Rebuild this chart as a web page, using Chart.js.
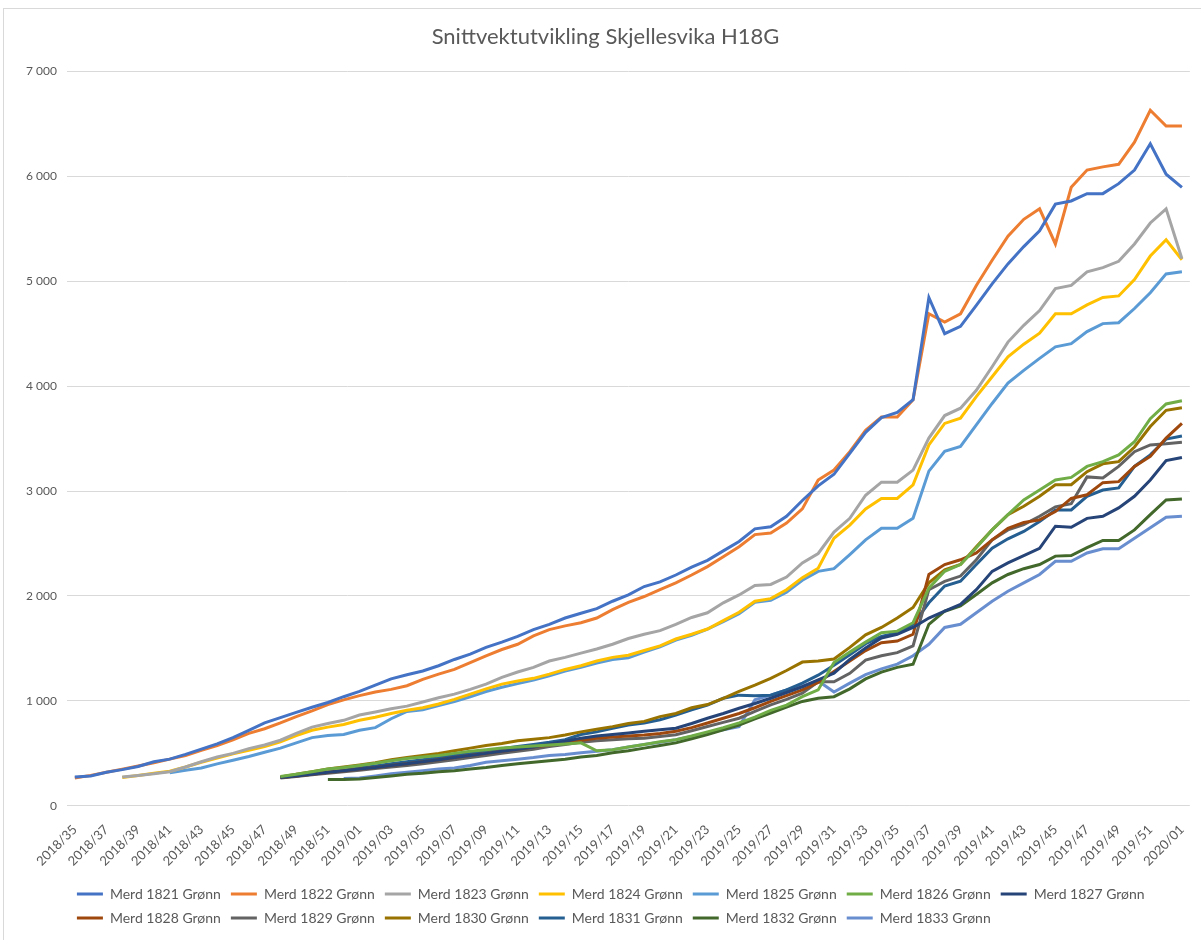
<!DOCTYPE html>
<html><head><meta charset="utf-8">
<script src="https://cdn.jsdelivr.net/npm/chart.js@4.4.1/dist/chart.umd.min.js"></script>
<style>
html,body{margin:0;padding:0;background:#fff;}
#wrap{position:relative;width:1201px;height:940px;overflow:hidden;}
#frame{position:absolute;left:3px;top:8px;width:1210px;height:950px;border:1px solid #d9d9d9;box-sizing:border-box;}
canvas{position:absolute;left:0;top:0;}
</style></head><body>
<div id="wrap"><div id="frame"></div><canvas id="c" width="1201" height="940"></canvas></div>
<script>
const title = 'Snittvektutvikling Skjellesvika H18G';
const weeks = ['2018/35','2018/36','2018/37','2018/38','2018/39','2018/40','2018/41','2018/42','2018/43','2018/44','2018/45','2018/46','2018/47','2018/48','2018/49','2018/50','2018/51','2018/52',
'2019/01','2019/02','2019/03','2019/04','2019/05','2019/06','2019/07','2019/08','2019/09','2019/10','2019/11','2019/12','2019/13','2019/14','2019/15','2019/16','2019/17','2019/18','2019/19','2019/20','2019/21','2019/22','2019/23','2019/24','2019/25','2019/26','2019/27','2019/28','2019/29','2019/30','2019/31','2019/32','2019/33','2019/34','2019/35','2019/36','2019/37','2019/38','2019/39','2019/40','2019/41','2019/42','2019/43','2019/44','2019/45','2019/46','2019/47','2019/48','2019/49','2019/50','2019/51','2019/52',
'2020/01'];
const yTicks = [0,1000,2000,3000,4000,5000,6000,7000];
const yTickLabels = ['0','1 000','2 000','3 000','4 000','5 000','6 000','7 000'];
const _ = null;
const m1821 = [275,285,320,345,375,420,445,490,540,590,650,720,790,840,890,940,985,1040,1090,1150,1210,1250,1285,1335,1395,1445,1510,1560,1615,1680,1730,1790,1835,1880,1950,2010,2090,2135,2200,2275,2340,2430,2520,2640,2660,2760,2910,3050,3160,3360,3560,3700,3750,3870,4845,4500,4570,4770,4975,5165,5330,5480,5735,5765,5835,5835,5930,6060,6310,6020,5895];
const m1822 = [265,290,320,350,380,410,445,480,530,575,630,690,735,790,850,905,965,1010,1050,1085,1110,1145,1205,1255,1300,1365,1430,1490,1540,1620,1680,1715,1745,1790,1870,1940,1995,2060,2125,2200,2280,2375,2470,2585,2600,2695,2830,3105,3200,3375,3580,3705,3705,3870,4690,4610,4690,4960,5200,5430,5590,5690,5355,5895,6060,6090,6115,6325,6630,6480,6480];
const m1823 = [_,_,_,275,290,305,325,370,420,465,500,545,580,625,690,750,785,815,865,895,925,950,990,1030,1065,1110,1160,1225,1275,1320,1380,1415,1455,1495,1540,1595,1635,1670,1730,1795,1840,1935,2010,2100,2110,2180,2315,2405,2610,2740,2960,3085,3085,3200,3505,3720,3790,3960,4185,4420,4580,4720,4930,4960,5090,5130,5190,5355,5555,5690,5215];
const m1824 = [_,_,_,270,290,310,330,370,415,455,495,530,565,610,670,720,750,775,815,845,880,910,935,970,1015,1065,1115,1160,1190,1215,1255,1300,1335,1380,1415,1435,1480,1525,1590,1635,1685,1765,1845,1950,1975,2060,2175,2265,2550,2675,2830,2930,2930,3060,3440,3645,3695,3900,4090,4280,4400,4505,4690,4690,4775,4845,4860,5015,5240,5395,5205];
const m1825 = [_,_,_,_,_,_,315,340,360,400,435,470,510,550,600,650,670,680,720,745,830,900,915,955,995,1040,1090,1130,1165,1200,1240,1285,1320,1360,1395,1410,1465,1515,1580,1625,1685,1755,1830,1940,1960,2035,2150,2235,2260,2395,2535,2645,2645,2740,3190,3380,3425,3630,3835,4030,4150,4265,4375,4405,4520,4596,4605,4740,4890,5070,5090];
const m1826 = [_,_,_,_,_,_,_,_,_,_,_,_,_,280,300,325,350,365,385,405,430,450,465,480,500,520,535,550,560,570,580,590,600,525,535,560,585,610,630,665,705,745,790,845,910,960,1040,1105,1365,1465,1560,1650,1665,1745,2075,2235,2300,2460,2630,2775,2915,3010,3105,3130,3235,3280,3345,3470,3690,3830,3860];
const m1827 = [_,_,_,_,_,_,_,_,_,_,_,_,_,270,285,300,320,335,350,365,385,400,420,440,460,480,500,520,540,560,590,615,645,665,680,695,710,725,740,785,835,880,930,975,1025,1080,1135,1200,1265,1395,1505,1600,1635,1700,1790,1855,1920,2060,2235,2315,2385,2455,2665,2655,2740,2760,2840,2950,3105,3290,3320];
const m1828 = [_,_,_,_,_,_,_,_,_,_,_,_,_,270,285,300,320,335,350,365,385,400,420,440,460,480,500,520,540,560,580,600,625,645,655,665,675,690,710,745,790,835,880,935,995,1050,1105,1175,1280,1380,1480,1555,1570,1635,2205,2300,2345,2410,2535,2645,2700,2725,2805,2930,2965,3080,3090,3235,3330,3505,3645];
const m1829 = [_,_,_,_,_,_,_,_,_,_,_,_,_,265,280,295,310,325,340,355,370,385,400,420,440,460,480,500,520,540,565,585,605,620,630,640,645,660,677,715,756,795,835,900,962,1015,1073,1183,1183,1263,1390,1430,1460,1525,2060,2140,2190,2345,2535,2630,2680,2760,2850,2880,3135,3125,3235,3375,3440,3450,3465];
const m1830 = [_,_,_,_,_,_,_,_,_,_,_,_,_,275,300,325,350,370,390,410,440,460,480,500,525,550,575,595,620,635,650,675,705,730,755,785,805,850,880,935,965,1025,1090,1150,1215,1290,1370,1380,1400,1510,1630,1700,1790,1890,2125,2250,2300,2470,2630,2775,2855,2950,3060,3060,3185,3260,3280,3420,3615,3770,3795];
const m1831 = [_,_,_,_,_,_,_,_,_,_,_,_,_,270,290,305,320,340,360,380,400,420,440,460,480,500,525,545,565,585,605,630,680,705,740,770,790,820,865,915,960,1025,1055,1050,1055,1105,1170,1245,1340,1440,1545,1615,1650,1730,1935,2095,2140,2300,2455,2545,2615,2710,2820,2820,2950,3010,3030,3235,3345,3495,3525];
const m1832 = [_,_,_,_,_,_,_,_,_,_,_,_,_,_,_,_,250,250,255,270,285,300,310,325,335,350,365,385,400,415,430,445,465,480,505,525,550,575,600,640,680,725,770,830,885,940,995,1025,1040,1115,1210,1275,1320,1350,1730,1855,1905,2015,2125,2205,2260,2300,2380,2385,2460,2530,2530,2630,2775,2915,2925];
const m1833 = [_,_,_,_,_,_,_,_,_,_,_,_,_,_,_,_,_,260,265,285,305,320,335,350,360,385,415,430,445,460,480,490,505,520,535,560,585,605,630,660,695,725,755,1010,1055,1105,1140,1190,1085,1170,1250,1305,1350,1430,1540,1700,1730,1840,1950,2045,2125,2205,2330,2330,2410,2450,2450,2550,2650,2750,2760];

const names = ['Merd 1821 Grønn','Merd 1822 Grønn','Merd 1823 Grønn','Merd 1824 Grønn','Merd 1825 Grønn','Merd 1826 Grønn','Merd 1827 Grønn','Merd 1828 Grønn','Merd 1829 Grønn','Merd 1830 Grønn','Merd 1831 Grønn','Merd 1832 Grønn','Merd 1833 Grønn'];
const series = [m1821,m1822,m1823,m1824,m1825,m1826,m1827,m1828,m1829,m1830,m1831,m1832,m1833];
const colors = ['#4472C4','#ED7D31','#A5A5A5','#FFC000','#5B9BD5','#70AD47','#264478','#9E480E','#636363','#997300','#255E91','#43682B','#698ED0'];

const txt = '#595959';
const FONT = 'Lato, "Open Sans", sans-serif';

new Chart(document.getElementById('c'), {
  type: 'line',
  data: {
    labels: weeks,
    datasets: series.map((d, k) => ({
      label: names[k], data: d, borderColor: colors[k], backgroundColor: colors[k],
      borderWidth: 3, pointRadius: 0, tension: 0, spanGaps: false
    }))
  },
  options: {
    responsive: false, animation: false,
    layout: { padding: { left: 16, right: 6, top: 24, bottom: 5 } },
    plugins: {
      tooltip: { enabled: false },
      title: { display: true, text: title, color: txt, font: { family: FONT, size: 22, weight: 'normal' }, padding: { top: 0, bottom: 21 } },
      legend: {
        position: 'bottom', align: 'start', fullSize: false,
        labels: { usePointStyle: true, pointStyle: 'line', pointStyleWidth: 26, color: txt, font: { family: FONT, size: 14 }, padding: 10 }
      }
    },
    scales: {
      x: {
        offset: true,
        grid: { display: false }, border: { display: false },
        ticks: { autoSkip: false, maxRotation: 45, minRotation: 45, padding: 8, color: txt, font: { family: FONT, size: 13 },
          callback: (v, i) => (i % 2 === 0 ? weeks[i] : '') }
      },
      y: {
        min: 0, max: 7000,
        afterBuildTicks: (s) => { s.ticks = yTicks.map(v => ({ value: v })); },
        grid: { color: '#d9d9d9', drawTicks: false }, border: { display: false },
        ticks: { color: txt, padding: 10, font: { family: FONT, size: 12 },
          callback: (v) => yTickLabels[yTicks.indexOf(v)] }
      }
    }
  }
});
</script>
</body></html>
